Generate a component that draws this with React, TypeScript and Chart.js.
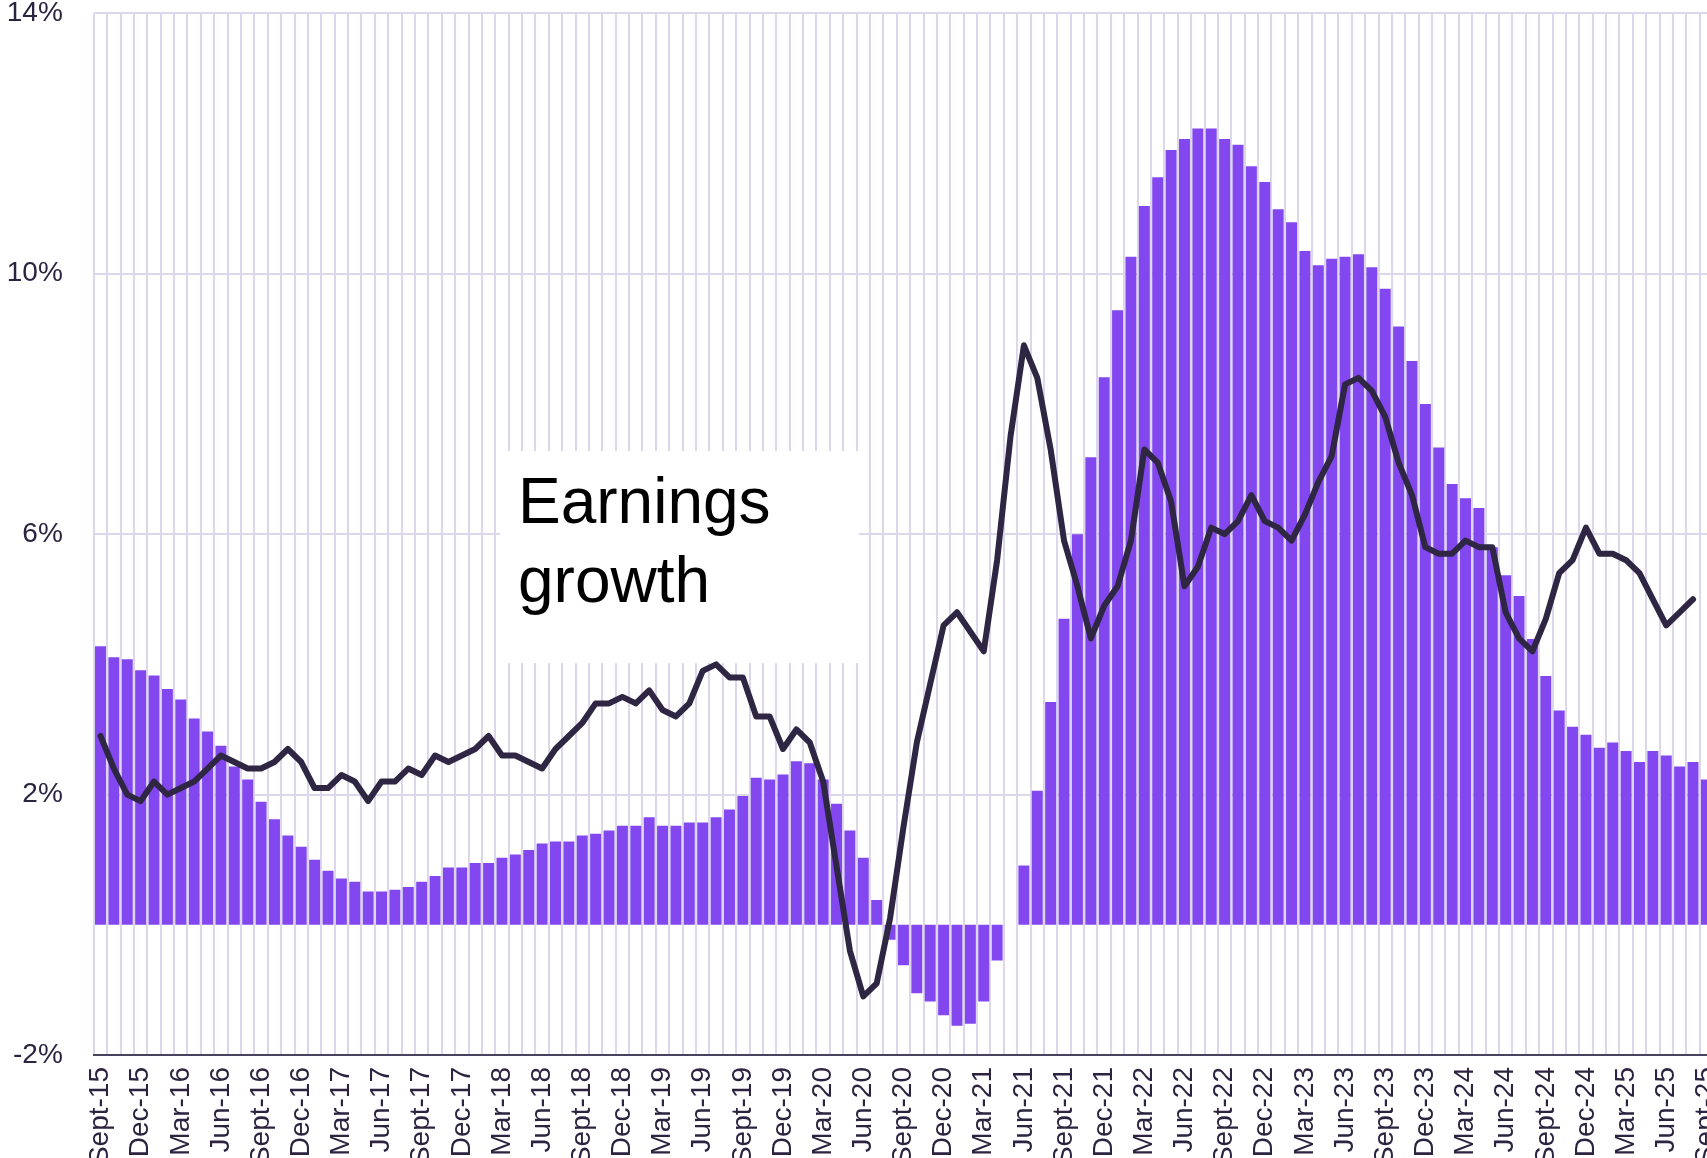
import { useEffect, useRef } from 'react';
import { Chart, registerables } from 'chart.js';

Chart.register(...registerables);

const MONTHS = ['Sept', 'Oct', 'Nov', 'Dec', 'Jan', 'Feb', 'Mar', 'Apr', 'May', 'Jun', 'Jul', 'Aug'];
const categories: string[] = [];
for (let i = 0; i < 121; i++) {
  categories.push(`${MONTHS[i % 12]}-${15 + Math.floor((i + 8) / 12)}`);
}

// Bars (purple)
const barValues: number[] = [
  4.28, 4.11, 4.08, 3.91, 3.83, 3.62, 3.46, 3.17, 2.97, 2.75,
  2.43, 2.23, 1.89, 1.62, 1.37, 1.20, 1.00, 0.83, 0.71, 0.66,
  0.51, 0.51, 0.54, 0.58, 0.66, 0.75, 0.88, 0.88, 0.95, 0.95,
  1.03, 1.08, 1.15, 1.25, 1.28, 1.28, 1.37, 1.40, 1.45, 1.52,
  1.52, 1.65, 1.52, 1.52, 1.57, 1.57, 1.65, 1.77, 1.98, 2.26,
  2.23, 2.31, 2.51, 2.48, 2.23, 1.86, 1.45, 1.03, 0.38, -0.23,
  -0.62, -1.05, -1.18, -1.39, -1.55, -1.52, -1.18, -0.55, 0.0, 0.91,
  2.06, 3.42, 4.70, 6.00, 7.18, 8.41, 9.44, 10.26, 11.04, 11.48,
  11.90, 12.07, 12.23, 12.23, 12.07, 11.98, 11.65, 11.41, 10.99, 10.79,
  10.35, 10.13, 10.23, 10.26, 10.30, 10.10, 9.77, 9.19, 8.66, 8.00,
  7.33, 6.77, 6.55, 6.40, 5.80, 5.37, 5.05, 4.39, 3.82, 3.29,
  3.04, 2.92, 2.72, 2.80, 2.67, 2.50, 2.67, 2.60, 2.43, 2.50,
  2.23,
];

// Earnings growth line
const earningsGrowth: (number | null)[] = [
  2.9, 2.4, 2.0, 1.9, 2.2, 2.0, 2.1, 2.2, 2.4, 2.6,
  2.5, 2.4, 2.4, 2.5, 2.7, 2.5, 2.1, 2.1, 2.3, 2.2,
  1.9, 2.2, 2.2, 2.4, 2.3, 2.6, 2.5, 2.6, 2.7, 2.9,
  2.6, 2.6, 2.5, 2.4, 2.7, 2.9, 3.1, 3.4, 3.4, 3.5,
  3.4, 3.6, 3.3, 3.2, 3.4, 3.9, 4.0, 3.8, 3.8, 3.2,
  3.2, 2.7, 3.0, 2.8, 2.2, 0.9, -0.4, -1.1, -0.9, 0.1,
  1.5, 2.8, 3.7, 4.6, 4.8, 4.5, 4.2, 5.6, 7.5, 8.9,
  8.4, 7.3, 5.9, 5.2, 4.4, 4.9, 5.2, 5.9, 7.3, 7.1,
  6.5, 5.2, 5.5, 6.1, 6.0, 6.2, 6.6, 6.2, 6.1, 5.9,
  6.3, 6.8, 7.2, 8.3, 8.4, 8.2, 7.8, 7.1, 6.6, 5.8,
  5.7, 5.7, 5.9, 5.8, 5.8, 4.8, 4.4, 4.2, 4.7, 5.4,
  5.6, 6.1, 5.7, 5.7, 5.6, 5.4, 5.0, 4.6, 4.8, 5.0,
  null,
];

const Y_MIN = -2;
const Y_MAX = 14;
const Y_STEP = 4;

const FONT = 'Liberation Sans, Arial, Helvetica, sans-serif';
const TEXT = '#2b2340';
const GRID = '#ddd7ec';
const AXIS = '#4a4360';
const BAR = '#8247ef';
const LINE = '#2e2642';

const TARGET_LEFT = 93.8;
const TARGET_RIGHT = 1712.6;

const boxPlugin = {
  id: 'earningsBox',
  beforeDatasetsDraw(chart: any) {
    const { ctx } = chart;
    ctx.save();
    ctx.fillStyle = '#ffffff';
    ctx.fillRect(500, 451, 359, 212);
    ctx.fillStyle = '#000000';
    ctx.font = `64px ${FONT}`;
    ctx.textBaseline = 'alphabetic';
    ctx.textAlign = 'left';
    ctx.fillText('Earnings', 518, 523);
    ctx.fillText('growth', 518, 602);
    ctx.restore();
  },
};

export default function App() {
  const ref = useRef<HTMLCanvasElement | null>(null);

  useEffect(() => {
    if (!ref.current) return;
    const chart = new Chart(ref.current, {
      type: 'bar',
      data: {
        labels: categories,
        datasets: [
          {
            type: 'line',
            label: 'Earnings growth',
            data: earningsGrowth,
            borderColor: LINE,
            borderWidth: 6,
            pointRadius: 0,
            tension: 0,
            borderJoinStyle: 'round',
            borderCapStyle: 'round',
            fill: false,
            order: 0,
          } as any,
          {
            type: 'bar',
            label: 'Inflation',
            data: barValues,
            backgroundColor: BAR,
            borderWidth: 0,
            barPercentage: 0.82,
            categoryPercentage: 1,
            order: 1,
          } as any,
        ],
      },
      options: {
        responsive: false,
        maintainAspectRatio: false,
        animation: false,
        layout: { padding: 0 },
        plugins: {
          legend: { display: false },
          tooltip: { enabled: false },
        },
        scales: {
          x: {
            type: 'category',
            offset: true,
            grid: { offset: true, color: GRID, lineWidth: 2, drawTicks: false },
            border: { display: true, color: AXIS, width: 2 },
            ticks: {
              autoSkip: false,
              maxRotation: 90,
              minRotation: 90,
              padding: 12,
              color: TEXT,
              font: { family: FONT, size: 28 },
              callback: (_v: any, i: number) => (i % 3 === 0 ? categories[i] : ''),
            },
            afterFit: (s: any) => {
              s.height = 110;
            },
          },
          y: {
            min: Y_MIN,
            max: Y_MAX,
            ticks: {
              stepSize: Y_STEP,
              padding: 0,
              color: TEXT,
              font: { family: FONT, size: 28, lineHeight: '26.6px' },
              callback: (v: any) => `${v}%`,
            },
            grid: {
              color: (c: any) => (c.tick && c.tick.value === Y_MIN ? 'rgba(0,0,0,0)' : GRID),
              lineWidth: 2,
              drawTicks: true,
              tickLength: 31,
              tickColor: 'rgba(0,0,0,0)',
            },
            border: { display: false },
            afterFit: (s: any) => {
              s.width = TARGET_LEFT;
            },
          },
        },
      },
      plugins: [boxPlugin],
    } as any);

    for (let k = 0; k < 4; k++) {
      const dw = TARGET_RIGHT - chart.chartArea.right;
      if (Math.abs(dw) < 0.5) break;
      chart.resize(Math.round(chart.width + dw), chart.height);
    }

    return () => chart.destroy();
  }, []);

  return (
    <div
      style={{
        position: 'fixed',
        left: 0,
        top: 0,
        width: '100vw',
        height: '100vh',
        overflow: 'hidden',
        background: '#ffffff',
      }}
    >
      <canvas ref={ref} width={1752} height={1165} style={{ display: 'block' }} />
    </div>
  );
}
